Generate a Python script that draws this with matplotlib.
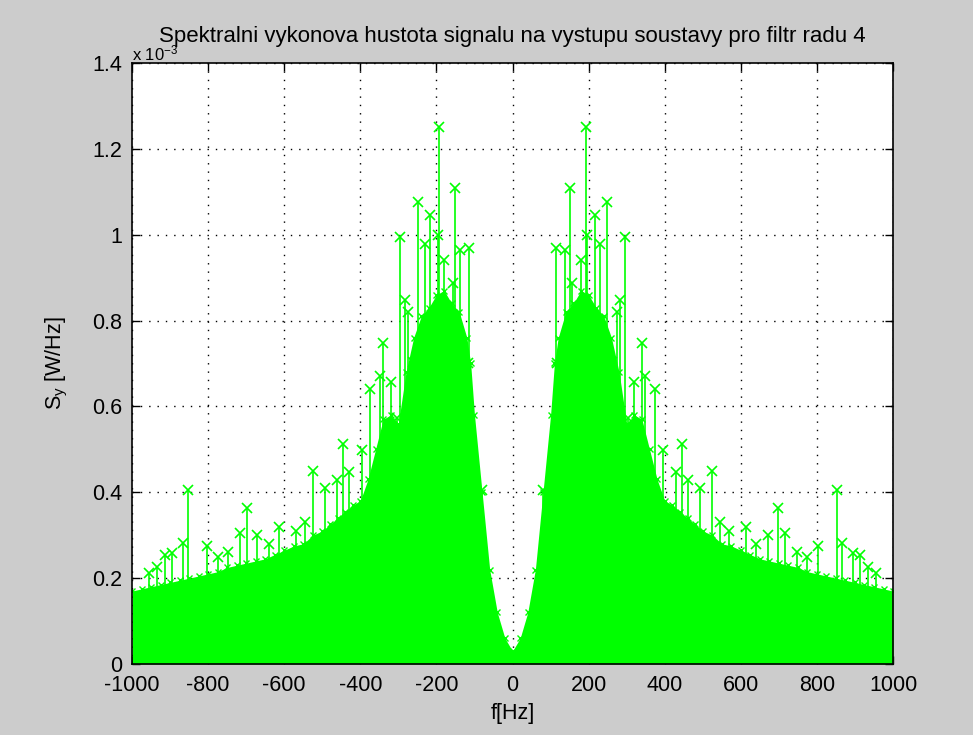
import numpy as np
import matplotlib
matplotlib.use('Agg')
import matplotlib.pyplot as plt
from matplotlib.ticker import FormatStrFormatter

plt.rcParams['font.family'] = ['Liberation Sans', 'DejaVu Sans']
plt.rcParams['mathtext.fontset'] = 'custom'
plt.rcParams['mathtext.rm'] = 'Liberation Sans'
plt.rcParams['mathtext.it'] = 'Liberation Sans:italic'
plt.rcParams['axes.unicode_minus'] = False

# spektrum je symetricke -> kladna pulka, hodnoty v 1e-3 W/Hz
env_f = [0, 20, 40, 60, 80, 100, 110, 120, 140, 160, 180, 200, 220, 240, 260,
         280, 300, 320, 340, 360, 380, 400, 420, 440, 460, 480, 500, 525, 550,
         575, 600, 625, 650, 675, 700, 725, 750, 775, 800, 825, 850, 875, 900,
         925, 950, 975, 1000]
env_s = [0.03, 0.06, 0.12, 0.22, 0.40, 0.58, 0.70, 0.76, 0.82, 0.84, 0.87,
         0.86, 0.83, 0.81, 0.76, 0.68, 0.56, 0.58, 0.57, 0.50, 0.43, 0.38,
         0.37, 0.355, 0.34, 0.325, 0.31, 0.30, 0.28, 0.275, 0.265, 0.255,
         0.245, 0.24, 0.235, 0.23, 0.225, 0.215, 0.21, 0.205, 0.20, 0.195,
         0.19, 0.185, 0.18, 0.175, 0.17]

# vyrazne spicky (stem s krizkem)
peak_f = [80, 106, 114, 117, 138, 151, 156, 180, 192, 196, 217, 230, 248,
          261, 274, 283, 296, 304, 319, 340, 348, 374, 395, 430, 445, 461,
          493, 524, 545, 570, 613, 640, 671, 698, 716, 748, 775, 802, 853,
          865, 895, 913, 934, 955]
peak_s = [0.405, 0.468, 0.97, 0.70, 0.964, 1.108, 0.887, 0.94, 1.25, 1.0,
          1.046, 0.978, 1.076, 0.703, 0.82, 0.848, 0.995, 0.573, 0.657, 0.748,
          0.67, 0.64, 0.498, 0.447, 0.512, 0.428, 0.41, 0.45, 0.33, 0.31,
          0.32, 0.28, 0.30, 0.363, 0.305, 0.26, 0.25, 0.276, 0.405, 0.282,
          0.258, 0.255, 0.227, 0.212]

xticks = [-1000, -800, -600, -400, -200, 0, 200, 400, 600, 800, 1000]
yticks = [0, 0.2, 0.4, 0.6, 0.8, 1.0, 1.2, 1.4]

# zrcadleni na zaporne frekvence
ef = np.array(env_f, dtype=float)
es = np.array(env_s)
f_env = np.concatenate([-ef[:0:-1], ef])
s_env = np.concatenate([es[:0:-1], es])
pf = np.array(peak_f, dtype=float)
ps = np.array(peak_s)
f_pk = np.concatenate([-pf[::-1], pf])
s_pk = np.concatenate([ps[::-1], ps])

green = (0, 1, 0)

fig = plt.figure(figsize=(9.73, 7.35), dpi=100, facecolor='#cccccc')
ax = fig.add_axes([0.1357, 0.0966, 0.7821, 0.8177])
ax.set_axisbelow(True)

ax.fill_between(f_env, 0, s_env, color=green, lw=0, zorder=2)
ax.plot(f_env, s_env, 'x', color=green, ms=4, mew=1, zorder=3)
ax.vlines(f_pk, 0, s_pk, colors=[green], lw=1.2, zorder=3)
ax.plot(f_pk, s_pk, 'x', color=green, ms=7, mew=1.2, zorder=3)

ax.set_xlim(-1000, 1000)
ax.set_ylim(0, 1.4)
ax.set_xticks(xticks)
ax.set_yticks(yticks)
ax.yaxis.set_major_formatter(FormatStrFormatter('%g'))
ax.tick_params(direction='in', length=6, top=True, right=True,
               labelsize=15.5, width=1)
ax.tick_params(axis='x', pad=8)
ax.tick_params(axis='y', pad=7)
ax.grid(True, color='black', linestyle=(0, (1, 5)), lw=1)
for sp in ax.spines.values():
    sp.set_linewidth(1.2)
    sp.set_zorder(5)

ax.set_xlabel('f[Hz]', fontsize=15.5, labelpad=5)
ax.set_ylabel(r'S$_\mathrm{y}$ [W/Hz]', fontsize=15.5, labelpad=16)
ax.set_title('Spektralni vykonova hustota signalu na vystupu soustavy pro filtr radu 4',
             fontsize=16, pad=15)
ax.text(0.0, 1.0, r'x 10$^{-3}$', transform=ax.transAxes, fontsize=12,
        ha='left', va='bottom')

fig.savefig('out.png', dpi=100, facecolor=fig.get_facecolor())
